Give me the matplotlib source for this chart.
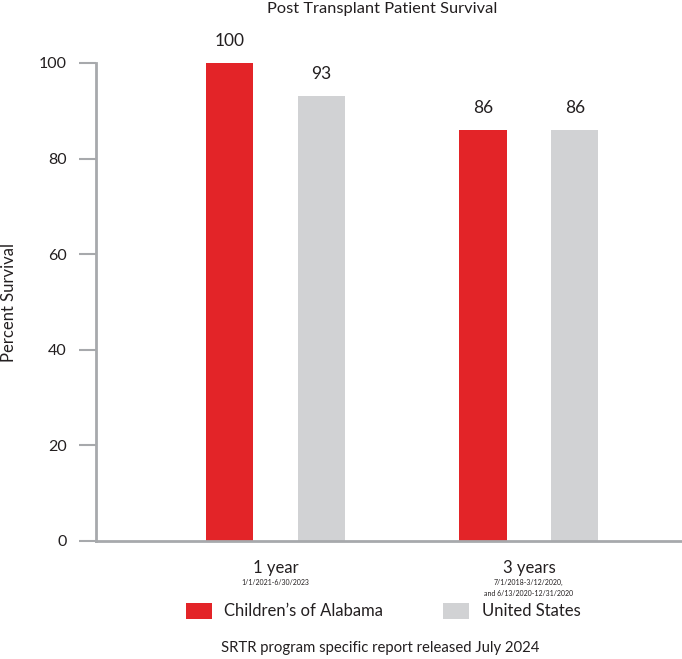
import matplotlib
matplotlib.use("Agg")
from matplotlib import pyplot as plt
import numpy as np

plt.rcParams['font.family'] = ['Lato', 'DejaVu Sans']

groups = ["1 year", "3 years"]
periods = ["1/1/2021-6/30/2023", "7/1/2018-3/12/2020,\nand 6/13/2020-12/31/2020"]
series = ["Children\u2019s of Alabama", "United States"]
alabama = [100, 86]
united_states = [93, 86]
colors = ["#E32428", "#D1D2D4"]
spine_col = "#A7A9AC"

fig = plt.figure(figsize=(6.82, 6.59), dpi=100)
ax = fig.add_axes([96 / 682, 1 - 541 / 659, 1 - 96 / 682, (541 - 63) / 659])

x = np.arange(len(groups))
off = 0.181
w = 0.186
b1 = ax.bar(x - off, alabama, w, color=colors[0], label=series[0])
b2 = ax.bar(x + off, united_states, w, color=colors[1], label=series[1])
for bars, vals in ((b1, alabama), (b2, united_states)):
    for r, v in zip(bars, vals):
        ax.text(r.get_x() + r.get_width() / 2, v + 3, str(v), ha='center', va='bottom',
                fontsize=12.5, color='#231F20', clip_on=False)

ax.set_xlim(-0.708, 1.604)
ax.set_ylim(0, 100)
ax.set_yticks([0, 20, 40, 60, 80, 100])
ax.tick_params(axis='y', length=12, width=1.5, color=spine_col, labelsize=11.5,
               labelcolor='#231F20', pad=9)
ax.set_xticks(x)
ax.set_xticklabels([])
ax.tick_params(axis='x', length=0)
for s in ('top', 'right'):
    ax.spines[s].set_visible(False)
for s in ('left', 'bottom'):
    ax.spines[s].set_color(spine_col)
    ax.spines[s].set_linewidth(2)

for xi, g, p in zip(x, groups, periods):
    ax.annotate(g, (xi, 0), xytext=(0, -14), textcoords='offset points',
                ha='center', va='top', fontsize=12, color='#231F20')
    ax.annotate(p, (xi, 0), xytext=(0, -27.5), textcoords='offset points',
                ha='center', va='top', fontsize=5, color='#231F20', linespacing=1.6)

ax.set_ylabel("Percent Survival", fontsize=12, color='#231F20')
ax.yaxis.set_label_coords(-0.135, 0.5)
fig.text(382 / 682, 1 - 9 / 659, "Post Transplant Patient Survival", ha='center', va='center',
         fontsize=11.8, color='#231F20')

fig.legend(handles=[b1, b2], loc='center left', bbox_to_anchor=(186 / 682, 1 - 611 / 659),
           ncol=2, frameon=False, fontsize=12, handlelength=1.55, handleheight=1.15,
           handletextpad=0.75, columnspacing=3.6, borderaxespad=0, borderpad=0,
           labelcolor='#231F20')

fig.text(380 / 682, 1 - 648 / 659, "SRTR program specific report released July 2024",
         ha='center', va='center', fontsize=10.7, color='#231F20')

fig.savefig("out.png", dpi=100)
